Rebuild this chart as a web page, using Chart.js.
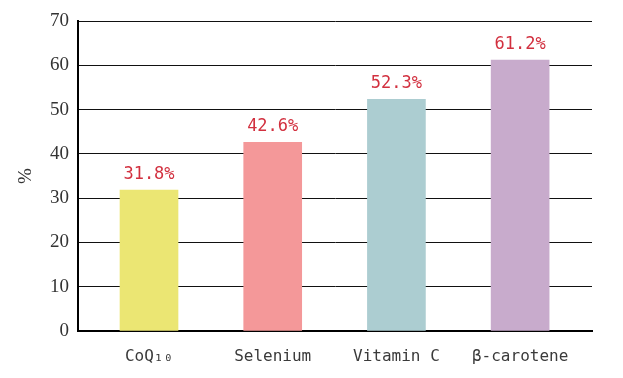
<!DOCTYPE html>
<html>
<head>
<meta charset="utf-8">
<script src="https://cdn.jsdelivr.net/npm/chart.js@4"></script>
<style>
  html, body { margin: 0; padding: 0; background: #fff; }
  #wrap { width: 623px; height: 378px; }
</style>
</head>
<body>
<div id="wrap"><canvas id="chart"></canvas></div>
<script>
// data
const categories = ['CoQ₁₀', 'Selenium', 'Vitamin C', 'β-carotene'];
const values = [31.8, 42.6, 52.3, 61.2];
const barColors = ['#ebe673', '#f49899', '#accdd1', '#c8abcc'];
const yTicks = [0, 10, 20, 30, 40, 50, 60, 70];

const monoFont = "'DejaVu Sans Mono', 'Liberation Mono', monospace";
const serifFont = "'Liberation Serif', 'DejaVu Serif', serif";

// draws the red % labels above each bar
const valueLabels = {
  id: 'valueLabels',
  afterDatasetsDraw(chart) {
    const ctx = chart.ctx;
    const meta = chart.getDatasetMeta(0);
    ctx.save();
    ctx.font = '17px ' + monoFont;
    ctx.fillStyle = '#d2303f';
    ctx.textAlign = 'center';
    ctx.textBaseline = 'bottom';
    meta.data.forEach((bar, i) => {
      ctx.fillText(values[i].toFixed(1) + '%', bar.x, bar.y - 7);
    });
    ctx.restore();
  }
};

const ctx = document.getElementById('chart').getContext('2d');
new Chart(ctx, {
  type: 'bar',
  data: {
    datasets: [{
      data: values.map((v, i) => ({ x: i, y: v })),
      backgroundColor: barColors,
      barThickness: 58,
      borderWidth: 0
    }]
  },
  options: {
    responsive: true,
    maintainAspectRatio: false,
    animation: false,
    layout: { padding: { left: 0, top: 21, right: 31, bottom: 0 } },
    plugins: { legend: { display: false }, tooltip: { enabled: false } },
    scales: {
      x: {
        type: 'linear',
        offset: false,
        min: -0.574,
        max: 3.581,
        afterFit: s => { s.height = 47; },
        afterBuildTicks: s => { s.ticks = categories.map((c, i) => ({ value: i })); },
        grid: { display: false, offset: false },
        border: { display: true, color: '#000', width: 2 },
        ticks: {
          autoSkip: false,
          maxRotation: 0,
          padding: 8,
          color: '#3a3a3a',
          font: { family: monoFont, size: 16 },
          callback: v => categories[v]
        }
      },
      y: {
        min: yTicks[0],
        max: yTicks[yTicks.length - 1],
        afterFit: s => { s.width = 78; },
        afterBuildTicks: s => { s.ticks = yTicks.map(v => ({ value: v })); },
        grid: { color: '#111', lineWidth: 1, drawTicks: false },
        border: { display: true, color: '#000', width: 2 },
        ticks: {
          padding: 9,
          color: '#333',
          font: { family: serifFont, size: 19 }
        },
        title: {
          display: true,
          text: '%',
          color: '#333',
          padding: { top: 15, bottom: 0 },
          font: { family: serifFont, size: 19 }
        }
      }
    }
  },
  plugins: [valueLabels]
});
</script>
</body>
</html>
